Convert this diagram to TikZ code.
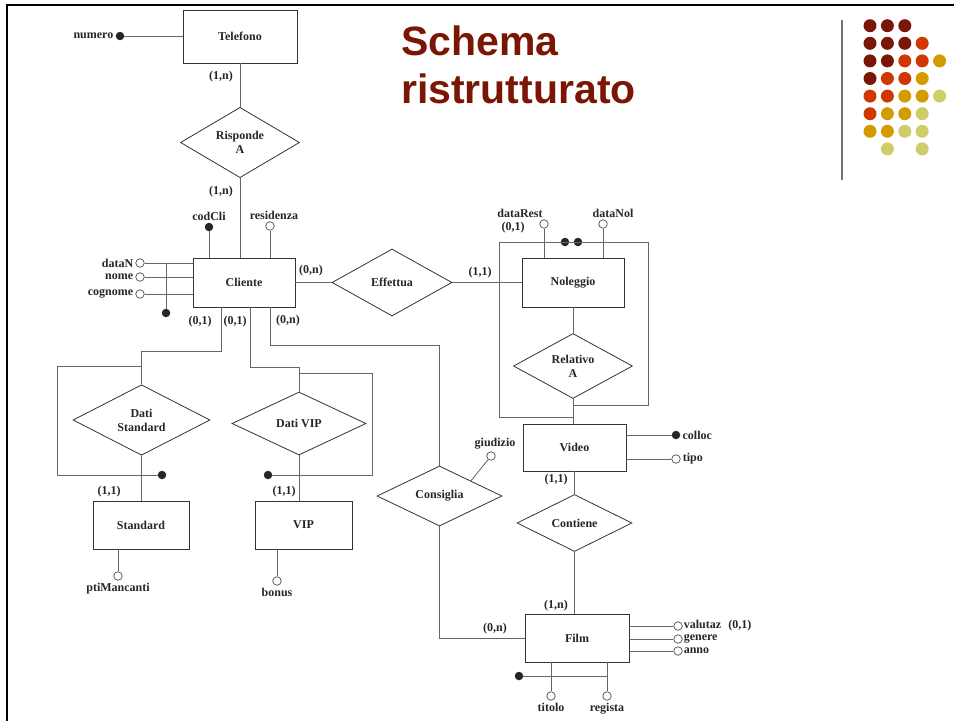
\documentclass[tikz,border=0pt]{standalone}
\usepackage{fontspec}
\setmainfont{Liberation Serif}
\newfontfamily\titlefont{Liberation Sans}
\usepackage{tikz}
\usetikzlibrary{shapes.geometric,positioning}
\definecolor{titleRed}{RGB}{122,22,4}
\definecolor{dotDark}{RGB}{122,22,8}
\definecolor{dotOrange}{RGB}{208,56,2}
\definecolor{dotGold}{RGB}{210,156,0}
\definecolor{dotPale}{RGB}{207,205,106}
\definecolor{dotNone}{RGB}{255,255,255}
\tikzset{ent/.style={draw=black!80,line width=0.8pt,inner sep=0pt}}
\tikzset{rel/.style={diamond,draw=black!80,line width=0.8pt,inner sep=0pt,align=center}}
\tikzset{attr/.style={circle,draw=black!70,fill=white,line width=0.7pt,minimum size=8.5pt,inner sep=0pt}}
\tikzset{key/.style={circle,fill=black!85,minimum size=8.5pt,inner sep=0pt}}
\tikzset{con/.style={draw=black!60,line width=0.8pt}}

\begin{document}
\begin{tikzpicture}[x=1pt,y=-1pt,
    every node/.style={font=\bfseries\fontsize{12}{14}\selectfont,text=black!85},
    every label/.style={inner sep=2pt}]
      \useasboundingbox (0,0) rectangle (954,721);
      \draw[line width=2.5pt] (954,5) -- (7,5) -- (7,721);

      % title and decoration
      \node[font=\titlefont\bfseries\fontsize{41}{48}\selectfont,text=titleRed,anchor=base west,inner sep=0pt](title1) at (401,55){Schema};
      \node[font=\titlefont\bfseries\fontsize{41}{48}\selectfont,text=titleRed,anchor=base west,inner sep=0pt](title2) at (401,103){ristrutturato};
      \draw[black!55,line width=1.2pt] (842,20) -- (842,180);
      \foreach \row [count=\j from 0] in {{dotDark,dotDark,dotDark},{dotDark,dotDark,dotDark,dotOrange},
          {dotDark,dotDark,dotOrange,dotOrange,dotGold},{dotDark,dotOrange,dotOrange,dotGold},
          {dotOrange,dotOrange,dotGold,dotGold,dotPale},{dotOrange,dotGold,dotGold,dotPale},
          {dotGold,dotGold,dotPale,dotPale},{dotNone,dotPale,dotNone,dotPale}}
        \foreach \c [count=\i from 0] in \row
          \fill[\c] ({870+17.4*\i},{25.7+17.6*\j}) circle (6.5pt);

      % entities
      \node[ent,minimum width=114pt,minimum height=53pt](Tel) at (240,36.5){Telefono};
      \node[ent,minimum width=102pt,minimum height=49pt](Cli) at (244,282.5){Cliente};
      \node[ent,minimum width=102pt,minimum height=49pt](Nol) at (573,282.5){Noleggio};
      \node[ent,minimum width=103pt,minimum height=47pt](Vid) at (574.5,447.5){Video};
      \node[ent,minimum width=104pt,minimum height=48pt](Film) at (577,638){Film};
      \node[ent,minimum width=96pt,minimum height=48pt](Std) at (141,525){Standard};
      \node[ent,minimum width=97pt,minimum height=48pt](VIP) at (303.5,525){VIP};

      % relationships
      \node[rel,minimum width=119pt,minimum height=61pt](Risp) at (240,142.5){Risponde\\A};
      \node[rel,minimum width=120pt,minimum height=67pt](Eff) at (392,282.5){Effettua};
      \node[rel,minimum width=119pt,minimum height=58pt](Rel) at (573,366){Relativo\\A};
      \node[rel,minimum width=115pt,minimum height=57pt](Cont) at (574.5,523){Contiene};
      \node[rel,minimum width=125pt,minimum height=60pt](Cons) at (439.5,496){Consiglia};
      \node[rel,minimum width=137pt,minimum height=62pt](DStd) at (141.5,420){Dati\\Standard};
      \node[rel,minimum width=134pt,minimum height=63pt](DVIP) at (299,423.5){Dati VIP};

      % attributes
      \node[key,label=left:numero](numero) at (120,36){};
      \node[key,label=above:codCli](codCli) at (209,227){};
      \node[attr,label={[xshift=4pt]above:residenza}](resid) at (270,226){};
      \node[attr,label=left:dataN](dataN) at (140,263){};
      \node[attr,label=left:nome](nome) at (140,277){};
      \node[attr,label=left:cognome](cogn) at (140,294){};
      \node[key](keyCli) at (166,313){};
      \node[attr](dataRest) at (544,224){};
      \node(dataRestL) at (520,213){dataRest};
      \node(dataRestC) at (513,228){(0,1)};
      \node[attr,label={[xshift=10pt]above:dataNol}](dataNol) at (603,224){};
      \node[key](nolK1) at (565,242){};
      \node[key](nolK2) at (578,242){};
      \node[key,label=right:colloc](colloc) at (676,435){};
      \node[attr,label=right:tipo](tipo) at (676,459){};
      \node[attr,label={[xshift=4pt]above:giudizio}](giud) at (491,456){};
      \node[attr,label={[inner sep=1pt]right:valutaz\hspace{0.6em}(0,1)}](valut) at (678,626){};
      \node[attr,label={[inner sep=1pt]right:genere}](genere) at (678,639){};
      \node[attr,label={[inner sep=1pt]right:anno}](anno) at (678,651){};
      \node[attr,label=below:titolo](titolo) at (551,696){};
      \node[attr,label=below:regista](regista) at (607,696){};
      \node[key](keyFilm) at (519,676){};
      \node[attr,label=below:ptiMancanti](ptiM) at (118,576){};
      \node[attr,label=below:bonus](bonus) at (277,581){};
      \node[key](stdK) at (162,475){};
      \node[key](vipK) at (268,475){};

      % cardinalities
      \node(cTel) at (221,77){(1,n)};
      \node(cCliR) at (221,192){(1,n)};
      \node(cCliE) at (311,271){(0,n)};
      \node(cCliS) at (200,322){(0,1)};
      \node(cCliV) at (235,322){(0,1)};
      \node(cCliC) at (288,321){(0,n)};
      \node(cNol) at (480,273){(1,1)};
      \node(cStd) at (109,492){(1,1)};
      \node(cVIP) at (284,492){(1,1)};
      \node(cVid) at (556,480){(1,1)};
      \node(cFilmC) at (556,606){(1,n)};
      \node(cFilmS) at (495,629){(0,n)};

      % connectors
      \draw[con] (numero) -- (numero -| Tel.west);
      \draw[con] (Tel.south) -- (Risp.north);
      \draw[con] (Risp.south) -- (Risp.south |- Cli.north);
      \draw[con] (codCli) -- (codCli |- Cli.north);
      \draw[con] (resid) -- (resid |- Cli.north);
      \draw[con] (dataN) -- (dataN -| Cli.west);
      \draw[con] (nome) -- (nome -| Cli.west);
      \draw[con] (cogn) -- (cogn -| Cli.west);
      \draw[con] (keyCli) -- (keyCli |- dataN);
      \draw[con] (Cli.east) -- (Eff.west);
      \draw[con] (Eff.east) -- (Nol.west);
      \draw[con] (dataRest) -- (dataRest |- Nol.north);
      \draw[con] (dataNol) -- (dataNol |- Nol.north);
      \draw[con] (Nol.south) -- (Rel.north);
      \draw[con] (Rel.south) -- (Rel.south |- Vid.north);
      \draw[con] (573,417) -| (499,242) -- (648,242) |- (573,405);
      \draw[con] (colloc) -- (colloc -| Vid.east);
      \draw[con] (tipo) -- (tipo -| Vid.east);
      \draw[con] (Vid.south) -- (Cont.north);
      \draw[con] (Cont.south) -- (Cont.south |- Film.north);
      \draw[con] (221,307) -- ++(0,44) -| (DStd.north);
      \draw[con] (250,307) -- ++(0,60) -| (DVIP.north);
      \draw[con] (270,307) -- ++(0,38) -| (Cons.north);
      \draw[con] (Cons.south) |- (Film.west);
      \draw[con] (Cons.north east) -- (giud);
      \draw[con] (142,366) -| (57,475) -- (stdK);
      \draw[con] (299,373) -| (372,475) -- (vipK);
      \draw[con] (DStd.south) -- (DStd.south |- Std.north);
      \draw[con] (DVIP.south) -- (DVIP.south |- VIP.north);
      \draw[con] (ptiM) -- (ptiM |- Std.south);
      \draw[con] (bonus) -- (bonus |- VIP.south);
      \draw[con] (valut) -- (valut -| Film.east);
      \draw[con] (genere) -- (genere -| Film.east);
      \draw[con] (anno) -- (anno -| Film.east);
      \draw[con] (titolo) -- (titolo |- Film.south);
      \draw[con] (regista) -- (regista |- Film.south);
      \draw[con] (keyFilm) -- (keyFilm -| regista);
    \end{tikzpicture}
\end{document}
